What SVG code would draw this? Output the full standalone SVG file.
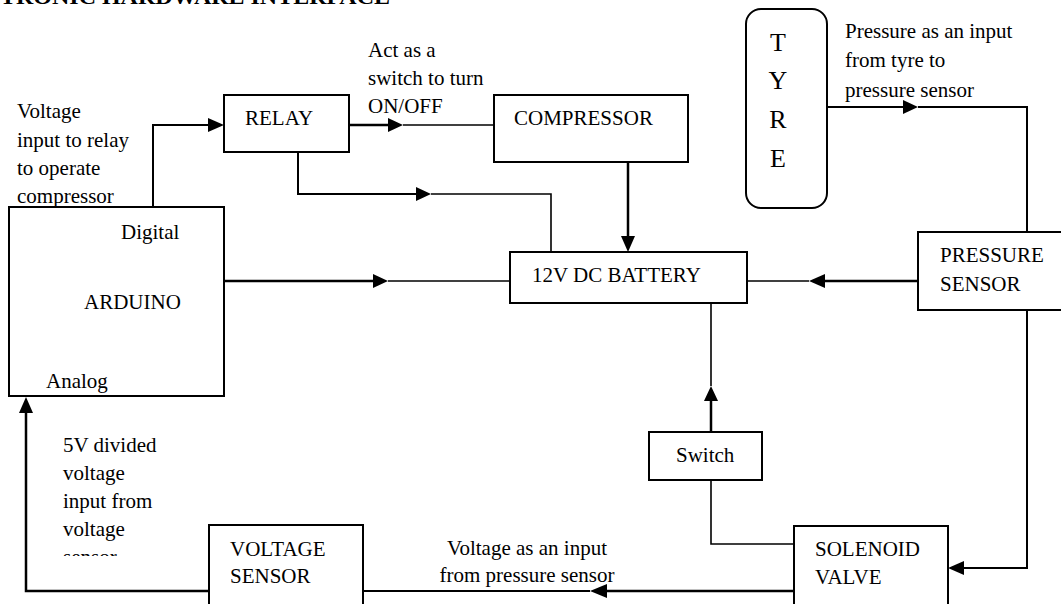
<svg xmlns="http://www.w3.org/2000/svg" width="1061" height="604" viewBox="0 0 1061 604">
<style>
text{font-family:"Liberation Serif","Times New Roman",serif;font-size:21px;fill:#000}
.title{font-weight:bold;font-size:20px}
.box{fill:#fff;stroke:#000;stroke-width:2}
.thick{fill:none;stroke:#000;stroke-width:2.5}
.thin{fill:none;stroke:#000;stroke-width:1.6}
.ah{fill:#000;stroke:none}
.tyre{font-size:26px}
</style>
<defs>
<clipPath id="clipLbl"><rect x="0" y="400" width="200" height="156"/></clipPath>
</defs>
<rect width="1061" height="604" fill="#fff"/>
<text class="title" x="0" y="4" textLength="390" lengthAdjust="spacingAndGlyphs">TRONIC HARDWARE INTERFACE</text>

<g id="connectors">
<!-- Arduino to Relay -->
<polyline class="thick" points="153,207 153,125 210,125" style="stroke-width:2"/>
<polygon class="ah" points="224,125 208,118 208,132"/>
<!-- Relay to Compressor -->
<line class="thick" x1="349" y1="125" x2="390" y2="125"/>
<polygon class="ah" points="403,125 388,118 388,132"/>
<line class="thin" x1="403" y1="125" x2="494" y2="125"/>
<!-- Relay to Battery -->
<polyline class="thick" points="298,152 298,194 418,194" style="stroke-width:2"/>
<polygon class="ah" points="431,194 416,187 416,201"/>
<polyline class="thin" points="431,194 551,194 551,252"/>
<!-- Compressor to Battery -->
<line class="thick" x1="628" y1="162" x2="628" y2="238"/>
<polygon class="ah" points="628,252 621,236 635,236"/>
<!-- Arduino to Battery -->
<line class="thick" x1="224" y1="281" x2="375" y2="281"/>
<polygon class="ah" points="388,281 373,274 373,288"/>
<line class="thin" x1="388" y1="281" x2="510" y2="281"/>
<!-- Pressure sensor to Battery -->
<line class="thick" x1="918" y1="281" x2="823" y2="281"/>
<polygon class="ah" points="809,281 825,274 825,288"/>
<line class="thin" x1="809" y1="281" x2="747" y2="281"/>
<!-- Tyre to Pressure sensor -->
<line class="thick" x1="827" y1="107" x2="905" y2="107" style="stroke-width:2"/>
<polygon class="ah" points="918,107 903,100 903,114"/>
<polyline class="thin" points="918,107 1027,107 1027,232" style="stroke-width:2"/>
<!-- Pressure sensor to Solenoid -->
<polyline class="thin" points="1027,310 1027,568 962,568" style="stroke-width:2"/>
<polygon class="ah" points="948,568 964,561 964,575"/>
<!-- Switch to Battery -->
<line class="thick" x1="711" y1="432" x2="711" y2="398"/>
<polygon class="ah" points="711,386 704,401 718,401"/>
<line class="thin" x1="711" y1="386" x2="711" y2="303"/>
<!-- Solenoid to Switch -->
<polyline class="thin" points="794,544 711,544 711,480"/>
<!-- Solenoid to Voltage sensor -->
<line class="thick" x1="794" y1="591" x2="605" y2="591"/>
<polygon class="ah" points="590,591 607,584 607,598"/>
<line class="thin" x1="590" y1="591" x2="363" y2="591" style="stroke-width:2"/>
<!-- Voltage sensor to Arduino -->
<polyline class="thick" points="217,591 26,591 26,410"/>
<polygon class="ah" points="26,397 19,413 33,413"/>
</g>

<g id="arduino">
<rect class="box" x="9" y="207" width="215" height="189"/>
<text x="121" y="239">Digital</text>
<text x="84" y="309">ARDUINO</text>
<text x="46" y="388">Analog</text>
</g>
<g id="relay">
<rect class="box" x="224" y="95" width="125" height="57"/>
<text x="245" y="125">RELAY</text>
</g>
<g id="compressor">
<rect class="box" x="494" y="95" width="194" height="67"/>
<text x="514" y="125">COMPRESSOR</text>
</g>
<g id="battery">
<rect class="box" x="510" y="252" width="237" height="51"/>
<text x="532" y="282">12V DC BATTERY</text>
</g>
<g id="tyre">
<rect class="box" x="746" y="9" width="81" height="199" rx="15" ry="15"/>
<text class="tyre" x="778" y="51" text-anchor="middle">T</text>
<text class="tyre" x="778" y="89" text-anchor="middle">Y</text>
<text class="tyre" x="778" y="128" text-anchor="middle">R</text>
<text class="tyre" x="778" y="167" text-anchor="middle">E</text>
</g>
<g id="pressure-sensor">
<rect class="box" x="918" y="232" width="160" height="78"/>
<text x="940" y="262">PRESSURE</text>
<text x="940" y="291">SENSOR</text>
</g>
<g id="switch">
<rect class="box" x="649" y="432" width="113" height="48"/>
<text x="676" y="462">Switch</text>
</g>
<g id="solenoid-valve">
<rect class="box" x="794" y="526" width="154" height="100"/>
<text x="815" y="556">SOLENOID</text>
<text x="815" y="584">VALVE</text>
</g>
<g id="voltage-sensor">
<rect class="box" x="209" y="525" width="154" height="100"/>
<text x="230" y="556">VOLTAGE</text>
<text x="230" y="583">SENSOR</text>
</g>

<g id="labels">
<text x="17" y="118">Voltage</text>
<text x="17" y="147">input to relay</text>
<text x="17" y="175">to operate</text>
<text x="17" y="203">compressor</text>
<text x="368" y="57">Act as a</text>
<text x="368" y="85">switch to turn</text>
<text x="368" y="113">ON/OFF</text>
<text x="845" y="38">Pressure as an input</text>
<text x="845" y="67">from tyre to</text>
<text x="845" y="97">pressure sensor</text>
<text x="527" y="555" text-anchor="middle">Voltage as an input</text>
<text x="527" y="582" text-anchor="middle">from pressure sensor</text>
<g clip-path="url(#clipLbl)">
<text x="63" y="452">5V divided</text>
<text x="63" y="480">voltage</text>
<text x="63" y="508">input from</text>
<text x="63" y="536">voltage</text>
<text x="63" y="564">sensor</text>
</g>
</g>
</svg>
